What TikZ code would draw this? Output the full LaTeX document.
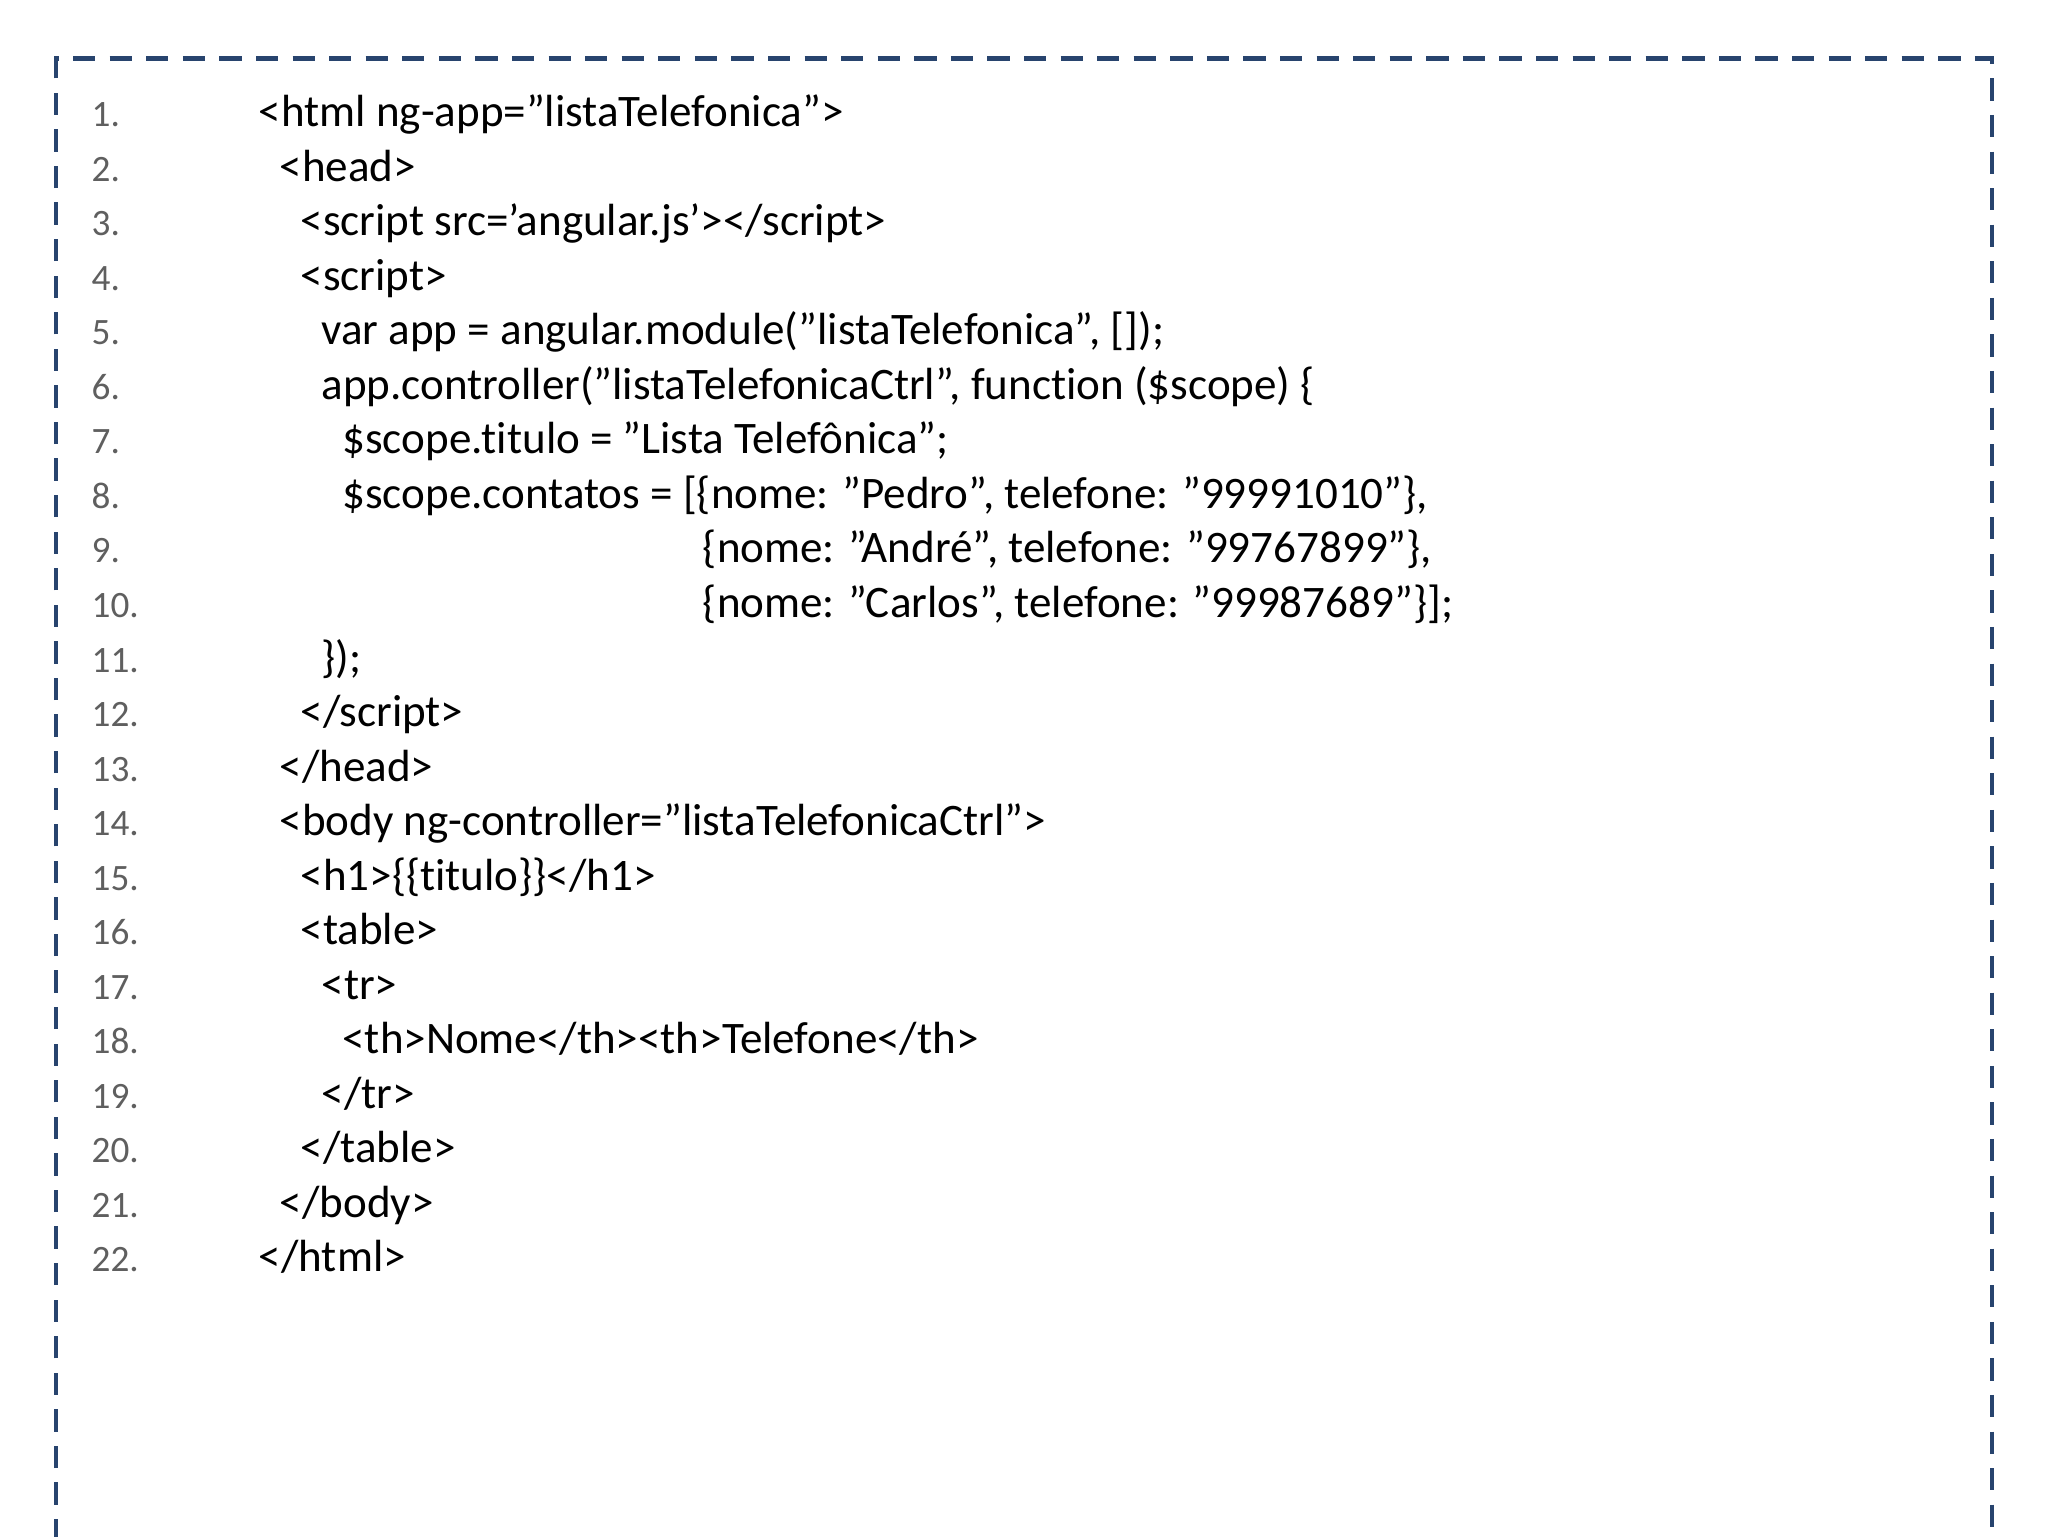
\documentclass[tikz,border=0pt]{standalone}
\usepackage{fontspec}
\setmainfont{Carlito}[Ligatures=ResetAll,RawFeature={-liga;-clig}]
\definecolor{frame}{RGB}{40,68,110}
\definecolor{num}{RGB}{95,95,95}
\newcommand\qd{\symbol{"22}}
\newcommand\qs{\symbol{"27}}
\begin{document}
\begin{tikzpicture}[x=1pt,y=-1pt,
  code/.style={anchor=base west,inner sep=0pt,font=\fontsize{34.5}{40}\selectfont},
  lnum/.style={anchor=base west,inner sep=0pt,text=num,font=\fontsize{28.5}{34}\selectfont}]
\useasboundingbox (0,0) rectangle (1568,1176);
\fill[white] (0,0) rectangle (1568,1176);
\draw[frame,line width=3.5pt,dash pattern=on 17pt off 11pt] (43,1180) coordinate (bl) -- (43,45) coordinate (tl) -- (1525,45) coordinate (tr) -- (1525,1180) coordinate (br);
\foreach \i in {1,...,22}{
  \node[lnum] (n\i) at (70,{97+41.75*(\i-1)}) {\i.};
}
\def\Y#1{{97+41.75*(#1-1)}}
\node[code] (c1) at (198,\Y{1}) {<html ng-app=\qd listaTelefonica\qd>};
\node[code] (c2) at (214,\Y{2}) {<head>};
\node[code] (c3) at (230,\Y{3}) {<script src=\qs angular.js\qs></script>};
\node[code] (c4) at (230,\Y{4}) {<script>};
\node[code] (c5) at (246,\Y{5}) {var app = angular.module(\qd listaTelefonica\qd, []);};
\node[code] (c6) at (246,\Y{6}) {app.controller(\qd listaTelefonicaCtrl\qd, function (\$scope) \{};
\node[code] (c7) at (262,\Y{7}) {\$scope.titulo = \qd Lista Telefônica\qd;};
\node[code] (c8) at (262,\Y{8}) {\$scope.contatos = [\{nome: \qd Pedro\qd, telefone: \qd 99991010\qd\},};
\node[code] (c9) at (538,\Y{9}) {\{nome: \qd André\qd, telefone: \qd 99767899\qd\},};
\node[code] (c10) at (538,\Y{10}) {\{nome: \qd Carlos\qd, telefone: \qd 99987689\qd\}];};
\node[code] (c11) at (246,\Y{11}) {\});};
\node[code] (c12) at (230,\Y{12}) {</script>};
\node[code] (c13) at (214,\Y{13}) {</head>};
\node[code] (c14) at (214,\Y{14}) {<body ng-controller=\qd listaTelefonicaCtrl\qd>};
\node[code] (c15) at (230,\Y{15}) {<h1>\{\{titulo\}\}</h1>};
\node[code] (c16) at (230,\Y{16}) {<table>};
\node[code] (c17) at (246,\Y{17}) {<tr>};
\node[code] (c18) at (262,\Y{18}) {<th>Nome</th><th>Telefone</th>};
\node[code] (c19) at (246,\Y{19}) {</tr>};
\node[code] (c20) at (230,\Y{20}) {</table>};
\node[code] (c21) at (214,\Y{21}) {</body>};
\node[code] (c22) at (198,\Y{22}) {</html>};
\end{tikzpicture}
\end{document}
